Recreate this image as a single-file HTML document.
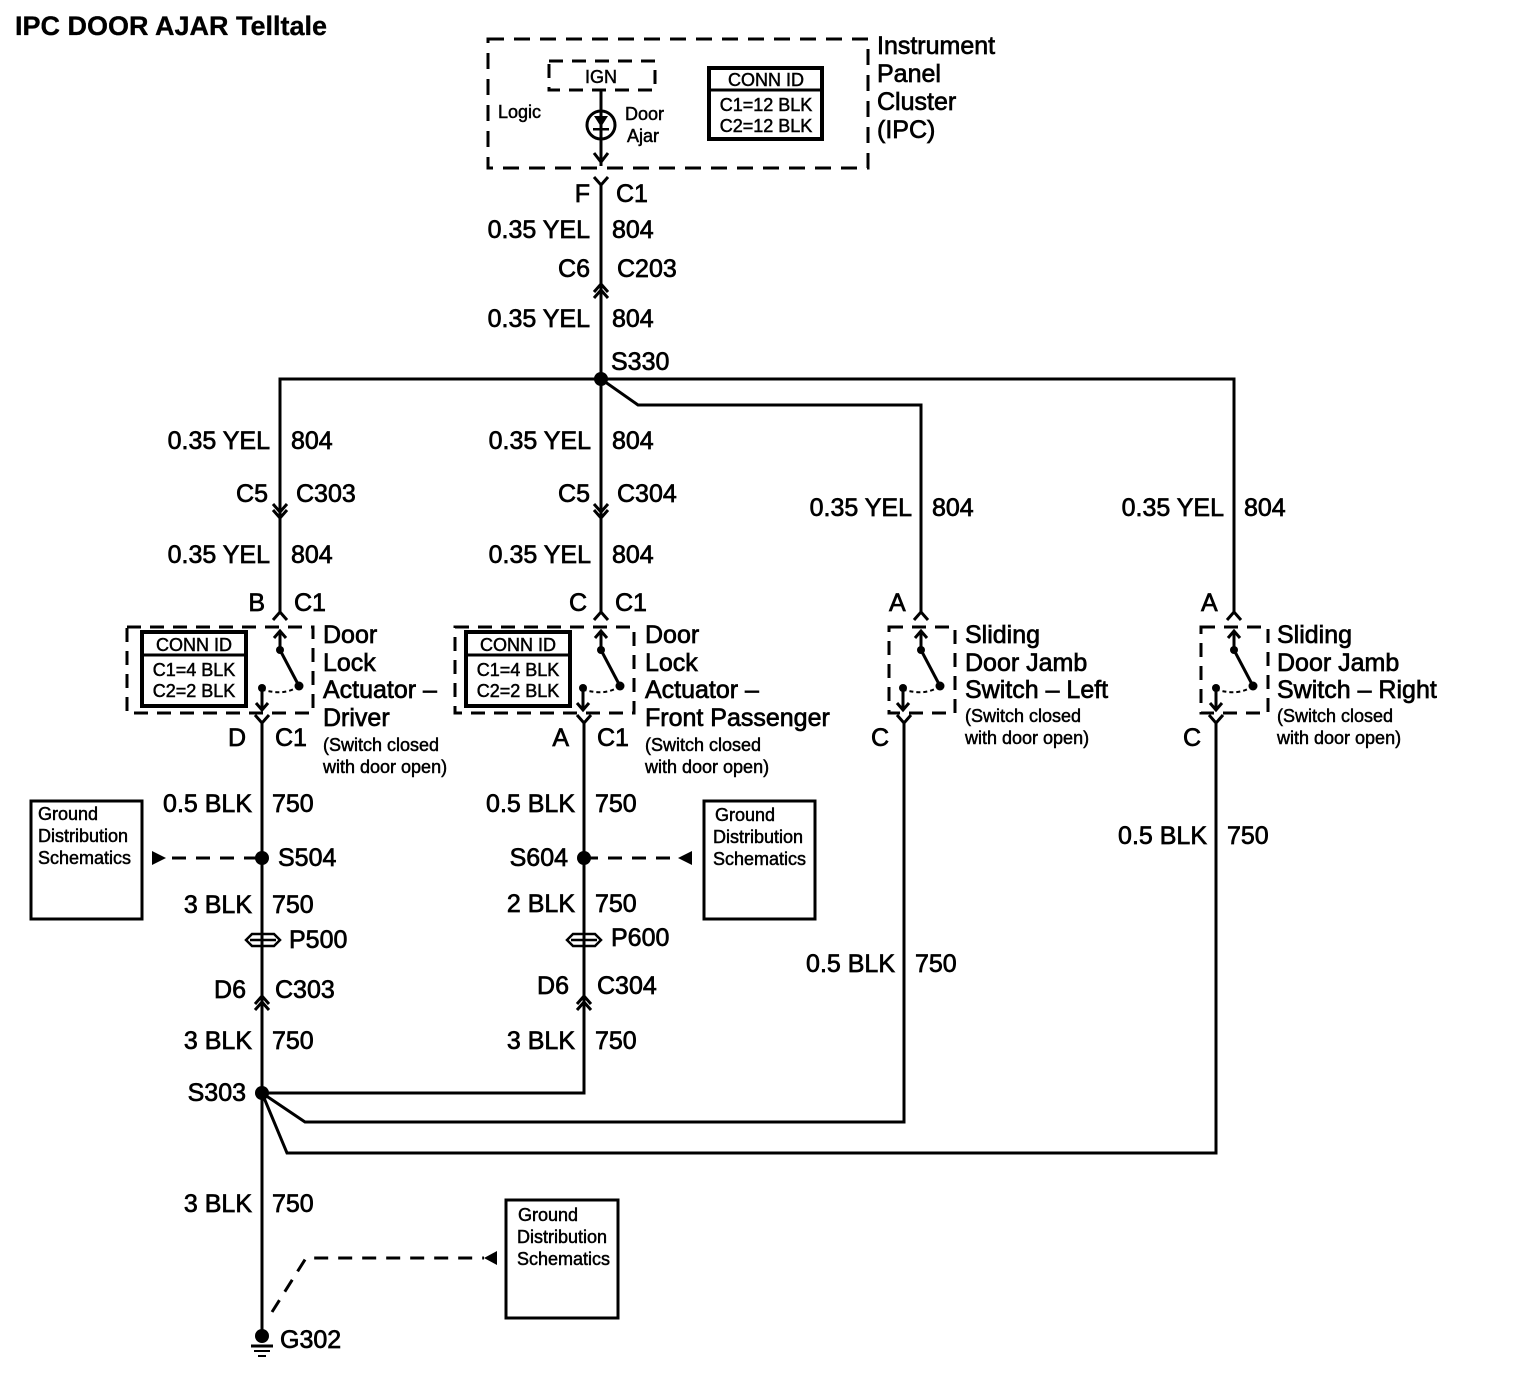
<!DOCTYPE html>
<html><head><meta charset="utf-8"><style>
html,body{margin:0;padding:0;background:#fff}
svg{display:block}
text{font-family:"Liberation Sans",Arial,sans-serif;fill:#000;stroke:#000;stroke-width:0.7}
.s{font-size:25px}
.m{font-size:18px;stroke-width:0.5}
.r{text-anchor:end}
</style></head><body>
<svg width="1534" height="1392" viewBox="0 0 1534 1392" xmlns="http://www.w3.org/2000/svg">
<g fill="none" stroke="#000" stroke-width="3">
<!-- IPC -->
<rect x="488" y="39" width="380" height="129" stroke-dasharray="16,10"/>
<rect x="549" y="61" width="106" height="29" stroke-dasharray="14,9"/>
<rect x="709" y="68" width="113" height="71" stroke-width="4"/>
<line x1="709" y1="90" x2="822" y2="90"/>
<line x1="601" y1="90" x2="601" y2="166"/>
<circle cx="601" cy="125" r="14"/>
<polyline points="594,153 601,162 608,153"/>
<polyline points="594,177 601,185 608,177"/>
<line x1="601" y1="185" x2="601" y2="378"/>
<polyline points="594,292 601,284 608,292"/>
<polyline points="594,298 601,290 608,298"/>
<!-- top bus -->
<polyline points="280,605 280,379 1234,379 1234,612"/>
<polyline points="601,379 638,405 921,405 921,612"/>
<line x1="601" y1="379" x2="601" y2="612"/>
<polyline points="273,504 280,512 287,504"/><polyline points="273,510 280,518 287,510"/>
<polyline points="594,504 601,512 608,504"/><polyline points="594,510 601,518 608,510"/>
<polyline points="273,620 280,612 287,620"/><line x1="280" y1="598" x2="280" y2="612"/>
<polyline points="594,620 601,612 608,620"/>
<polyline points="914,620 921,612 928,620"/>
<polyline points="1227,620 1234,612 1241,620"/>
<rect x="127" y="627" width="186" height="86" stroke-dasharray="14,9"/>
<rect x="455" y="627" width="179" height="86" stroke-dasharray="14,9"/>
<rect x="889" y="627" width="66" height="86" stroke-dasharray="14,9"/>
<rect x="1201" y="627" width="67" height="86" stroke-dasharray="14,9"/>
<rect x="142" y="632" width="104" height="74" stroke-width="4"/><line x1="142" y1="655" x2="246" y2="655"/>
<rect x="466" y="632" width="104" height="74" stroke-width="4"/><line x1="466" y1="655" x2="570" y2="655"/>
<polyline points="255,715 262,723 269,715"/>
<polyline points="577,715 584,723 591,715"/>
<polyline points="897,715 904,723 911,715"/>
<polyline points="1209,715 1216,723 1223,715"/>
<polyline points="262,723 262,1335"/>
<polyline points="262,1093 584,1093 584,723"/>
<polyline points="262,1093 305,1122 904,1122 904,723"/>
<polyline points="262,1093 287,1153 1216,1153 1216,723"/>
<polyline points="255,1004 262,996 269,1004"/><polyline points="255,1010 262,1002 269,1010"/>
<polyline points="577,1004 584,996 591,1004"/><polyline points="577,1010 584,1002 591,1010"/>
<rect x="31" y="801" width="111" height="118"/>
<rect x="704" y="801" width="111" height="118"/>
<rect x="506" y="1200" width="112" height="118"/>
<g stroke-dasharray="14,10">
<line x1="172" y1="858" x2="262" y2="858"/>
<line x1="584" y1="858" x2="680" y2="858"/>
<polyline points="272,1312 306,1258 484,1258"/>
</g>
<g stroke-width="2.5">
<path d="M246,940 l6,-6 h22 l6,6 l-6,6 h-22 z"/><line x1="250" y1="940" x2="276" y2="940"/>
<path d="M567,940 l6,-6 h22 l6,6 l-6,6 h-22 z"/><line x1="571" y1="940" x2="597" y2="940"/>
</g>
<line x1="251" y1="1346" x2="273" y2="1346"/><line x1="254" y1="1351" x2="270" y2="1351" stroke-width="2"/><line x1="258" y1="1356" x2="266" y2="1356" stroke-width="2"/>
<g id="sw">
<line x1="280" y1="632" x2="280" y2="650"/><polyline points="274,638 280,631 286,638"/>
<line x1="280" y1="650" x2="299" y2="686"/>
<path d="M299,686 Q285,696 264,690" stroke-dasharray="4,3" stroke-width="2"/>
<line x1="262" y1="688" x2="262" y2="710"/><polyline points="256,703 262,710 268,703"/>
</g>
<use href="#sw" x="321"/>
<use href="#sw" x="641"/>
<use href="#sw" x="954"/>
</g>
<g fill="#000">
<polygon points="594,116 608,116 601,127"/><rect x="593" y="128" width="16" height="2.5"/>
<circle cx="601" cy="379" r="7"/>
<circle cx="262" cy="858" r="7"/>
<circle cx="584" cy="858" r="7"/>
<circle cx="262" cy="1093" r="7"/>
<circle cx="262" cy="1336" r="7"/>
<polygon points="152,851 152,865 166,858"/>
<polygon points="692,851 692,865 678,858"/>
<polygon points="497,1251 497,1265 484,1258"/>
<g id="dots"><circle cx="280" cy="650" r="4"/><circle cx="299" cy="686" r="4.5"/><circle cx="262" cy="688" r="4"/></g>
<use href="#dots" x="321"/><use href="#dots" x="641"/><use href="#dots" x="954"/>
</g>

<text x="15" y="35" style="font-size:27px;font-weight:bold;stroke-width:0.3">IPC DOOR AJAR Telltale</text>
<text class="m" x="601" y="83" text-anchor="middle">IGN</text>
<text class="m" x="498" y="118">Logic</text>
<text class="m" x="625" y="120">Door</text>
<text class="m" x="627" y="142">Ajar</text>
<text class="m" x="766" y="86" text-anchor="middle">CONN ID</text>
<text class="m" x="766" y="111" text-anchor="middle">C1=12 BLK</text>
<text class="m" x="766" y="132" text-anchor="middle">C2=12 BLK</text>
<text class="s" x="877" y="54">Instrument</text>
<text class="s" x="877" y="82">Panel</text>
<text class="s" x="877" y="110">Cluster</text>
<text class="s" x="877" y="138">(IPC)</text>

<text class="s r" x="590" y="202">F</text><text class="s" x="616" y="202">C1</text>
<text class="s r" x="590" y="238">0.35 YEL</text><text class="s" x="612" y="238">804</text>
<text class="s r" x="590" y="277">C6</text><text class="s" x="617" y="277">C203</text>
<text class="s r" x="590" y="327">0.35 YEL</text><text class="s" x="612" y="327">804</text>
<text class="s" x="611" y="370">S330</text>

<text class="s r" x="270" y="449">0.35 YEL</text><text class="s" x="291" y="449">804</text>
<text class="s r" x="268" y="502">C5</text><text class="s" x="296" y="502">C303</text>
<text class="s r" x="270" y="563">0.35 YEL</text><text class="s" x="291" y="563">804</text>
<text class="s r" x="265" y="611">B</text><text class="s" x="294" y="611">C1</text>

<text class="s r" x="591" y="449">0.35 YEL</text><text class="s" x="612" y="449">804</text>
<text class="s r" x="590" y="502">C5</text><text class="s" x="617" y="502">C304</text>
<text class="s r" x="591" y="563">0.35 YEL</text><text class="s" x="612" y="563">804</text>
<text class="s r" x="587" y="611">C</text><text class="s" x="615" y="611">C1</text>

<text class="s r" x="912" y="516">0.35 YEL</text><text class="s" x="932" y="516">804</text>
<text class="s r" x="1224" y="516">0.35 YEL</text><text class="s" x="1244" y="516">804</text>
<text class="s" x="889" y="611">A</text>
<text class="s" x="1201" y="611">A</text>

<text class="m" x="194" y="651" text-anchor="middle">CONN ID</text>
<text class="m" x="194" y="676" text-anchor="middle">C1=4 BLK</text>
<text class="m" x="194" y="697" text-anchor="middle">C2=2 BLK</text>
<text class="m" x="518" y="651" text-anchor="middle">CONN ID</text>
<text class="m" x="518" y="676" text-anchor="middle">C1=4 BLK</text>
<text class="m" x="518" y="697" text-anchor="middle">C2=2 BLK</text>

<text class="s" x="323" y="643">Door</text><text class="s" x="323" y="671">Lock</text><text class="s" x="323" y="698">Actuator –</text><text class="s" x="323" y="726">Driver</text>
<text class="m" x="323" y="751">(Switch closed</text><text class="m" x="323" y="773">with door open)</text>
<text class="s" x="645" y="643">Door</text><text class="s" x="645" y="671">Lock</text><text class="s" x="645" y="698">Actuator –</text><text class="s" x="645" y="726">Front Passenger</text>
<text class="m" x="645" y="751">(Switch closed</text><text class="m" x="645" y="773">with door open)</text>
<text class="s" x="965" y="643">Sliding</text><text class="s" x="965" y="671">Door Jamb</text><text class="s" x="965" y="698">Switch – Left</text>
<text class="m" x="965" y="722">(Switch closed</text><text class="m" x="965" y="744">with door open)</text>
<text class="s" x="1277" y="643">Sliding</text><text class="s" x="1277" y="671">Door Jamb</text><text class="s" x="1277" y="698">Switch – Right</text>
<text class="m" x="1277" y="722">(Switch closed</text><text class="m" x="1277" y="744">with door open)</text>

<text class="s r" x="246" y="746">D</text><text class="s" x="275" y="746">C1</text>
<text class="s r" x="569" y="746">A</text><text class="s" x="597" y="746">C1</text>
<text class="s r" x="889" y="746">C</text>
<text class="s r" x="1201" y="746">C</text>

<text class="s r" x="252" y="812">0.5 BLK</text><text class="s" x="272" y="812">750</text>
<text class="s r" x="575" y="812">0.5 BLK</text><text class="s" x="595" y="812">750</text>
<text class="s r" x="1207" y="844">0.5 BLK</text><text class="s" x="1227" y="844">750</text>
<text class="s r" x="895" y="972">0.5 BLK</text><text class="s" x="915" y="972">750</text>

<text class="s" x="278" y="866">S504</text>
<text class="s r" x="568" y="866">S604</text>
<text class="s r" x="252" y="913">3 BLK</text><text class="s" x="272" y="913">750</text>
<text class="s r" x="575" y="912">2 BLK</text><text class="s" x="595" y="912">750</text>
<text class="s" x="289" y="948">P500</text>
<text class="s" x="611" y="946">P600</text>
<text class="s r" x="246" y="998">D6</text><text class="s" x="275" y="998">C303</text>
<text class="s r" x="569" y="994">D6</text><text class="s" x="597" y="994">C304</text>
<text class="s r" x="252" y="1049">3 BLK</text><text class="s" x="272" y="1049">750</text>
<text class="s r" x="575" y="1049">3 BLK</text><text class="s" x="595" y="1049">750</text>
<text class="s r" x="246" y="1101">S303</text>
<text class="s r" x="252" y="1212">3 BLK</text><text class="s" x="272" y="1212">750</text>
<text class="s" x="280" y="1348">G302</text>

<text class="m" x="38" y="820">Ground</text><text class="m" x="38" y="842">Distribution</text><text class="m" x="38" y="864">Schematics</text>
<text class="m" x="715" y="821">Ground</text><text class="m" x="713" y="843">Distribution</text><text class="m" x="713" y="865">Schematics</text>
<text class="m" x="518" y="1221">Ground</text><text class="m" x="517" y="1243">Distribution</text><text class="m" x="517" y="1265">Schematics</text>
</svg>
</body></html>
